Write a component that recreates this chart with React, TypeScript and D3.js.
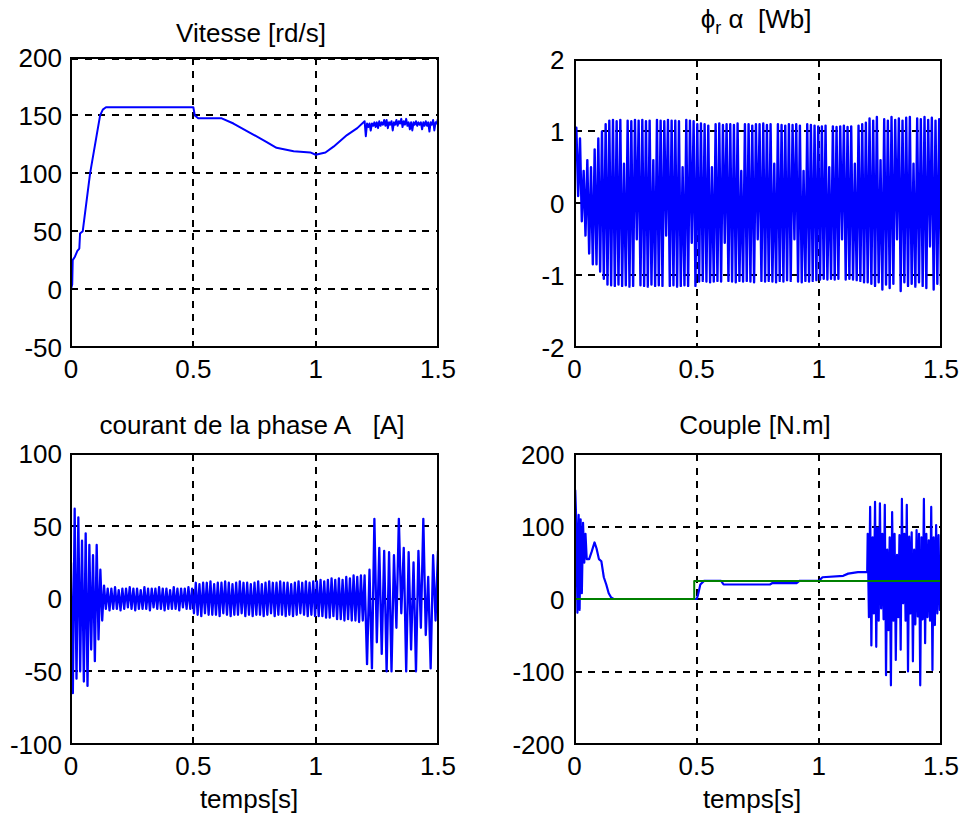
import React from 'react';
import * as d3 from 'd3';

// ---------- shared axis data ----------
const timeDomain: [number, number] = [0, 1.5];
const timeTicks = [0, 0.5, 1, 1.5];
const timeTickLabels = ['0', '0.5', '1', '1.5'];

// ---------- Vitesse [rd/s] ----------
const speedDomain: [number, number] = [-50, 200];
const speedTicks = [-50, 0, 50, 100, 150, 200];
const speedT = [0, 0.005, 0.007, 0.016, 0.026, 0.034, 0.037, 0.048, 0.078, 0.105,
  0.119, 0.13, 0.143, 0.5, 0.506, 0.52, 0.616, 0.664, 0.732, 0.8,
  0.84, 0.91, 0.978, 1.0, 1.04, 1.073, 1.128, 1.17, 1.2];
const speedV = [0, 4, 25, 28, 33, 35, 48, 50, 100, 133,
  150, 155, 157, 157, 150, 147.5, 147.5, 143, 135, 127,
  122, 119, 118, 116, 118, 123, 133, 139, 145];
// ripple after 1.2 s, one value every 0.005 s
const speedRippleStart = 1.205;
const speedRippleStep = 0.005;
const speedRippleV = [
  132, 143, 140, 143, 137, 143, 141, 144, 140, 144,
  139, 145, 141, 144, 142, 146, 141, 146, 139, 144,
  142, 145, 137, 144, 142, 146, 141, 145, 143, 147,
  140, 145, 142, 147, 141, 144, 138, 144, 137, 144,
  142, 145, 141, 144, 142, 144, 138, 144, 141, 145,
  141, 144, 136, 144, 142, 146, 137, 144, 143, 147,
];

// ---------- phi_r alpha [Wb] (one value every 0.0075 s) ----------
const fluxDomain: [number, number] = [-2, 2];
const fluxTicks = [-2, -1, 0, 1, 2];
const fluxStep = 0.0075;
const fluxV = [
  0.65, 1.05, 0.1, 0.9, -0.25, 0.45, -0.45, 0.6, -0.7, 0.5,
  -0.85, 0.75, -0.85, 0.9, -0.95, 1.0, -1.05, 1.1, -1.13,
  1.15, -1.14, 1.16, -1.15, 1.14, -1.13, 1.16, -1.15, 0.55, -1.14,
  1.15, -1.16, 1.14, -1.15, 1.16, -0.5, 1.15, -1.14, 1.16, -1.15,
  1.14, -1.16, 1.15, -1.13, 0.6, -1.15, 1.16, -1.14, 1.15, -1.15,
  1.14, -0.45, 1.16, -1.15, 1.15, -1.14, 1.15, -1.16, 1.14, -1.15,
  0.5, -1.14, 1.16, -1.15, 1.15, -0.55, 1.14, -1.15,
  1.1, -1.09, 1.11, -1.08, 1.1, -1.09, 1.08, -1.1, 0.5, -1.09,
  1.1, -1.08, 1.11, -1.09, 1.09, -0.55, 1.1, -1.08, 1.1, -1.09,
  1.09, -1.1, 1.11, -1.08, 0.45, -1.09, 1.1, -1.08, 1.1, -1.09,
  1.08, -1.1, 1.1, -0.5, 1.1, -1.08, 1.11, -1.09, 1.09, -1.08,
  1.1, -1.09, 0.55, -1.1, 1.1, -1.08, 1.09, -1.09, 1.08, -1.07,
  1.1, -1.08, 1.09, -0.5, 1.1, -1.09, 1.08, -1.1, 0.45, -1.08,
  1.1, -1.09, 1.09, -1.08, 1.08, -1.07, 1.07,
  -1.06, 1.07, -1.05, 1.08, -1.06, 0.5, -1.05, 1.07, -1.06, 1.06,
  -1.05, 1.07, -0.5, 1.08, -1.06, 1.06, -1.05, 1.07, -1.06, 0.55,
  -1.07, 1.08, -1.08, 1.1, -1.1, 1.12, -1.1,
  1.18, -1.12, 1.15, -1.15, 1.2, -1.1, 0.6, -1.2, 1.17, -1.13,
  1.15, -1.18, 1.2, -1.12, 1.16, -0.5, 1.18, -1.22, 1.15, -1.1,
  1.19, -1.15, 1.2, -1.12, 0.55, -1.16, 1.18, -1.1, 1.17, -1.15,
  1.2, -1.18, 1.16, -0.6, 1.19, -1.2, 1.15, -1.12, 1.17, -1.15,
];

// ---------- courant de la phase A [A] ----------
const currentDomain: [number, number] = [-100, 100];
const currentTicks = [-100, -50, 0, 50, 100];
// up to 1.2 s, one value every 0.0075 s
const currentStep = 0.0075;
const currentV = [
  25, -65, 62, -55, 56, -50, 40, -57, 45, -60, 37, -35, 30, -43, 37, -28, 20, -15, 9, -7,
  7, -8, 7, -7, 8, -7, 6, -8, 7, -7,
  7, -6, 8, -7, 7, -8, 7, -7, 6, -7,
  8, -7, 7, -8, 7, -6, 7, -7, 8, -7,
  7, -8, 7, -7, 6, -7, 8, -7, 7, -8,
  7, -6, 7, -7, 8, -7, 7,
  -10, 11, -11, 10, -12, 11, -10, 11, -11, 12,
  -11, 10, -11, 11, -12, 11, -10, 12, -11, 11,
  -12, 10, -11, 11, -11, 12, -10, 11, -12, 11,
  -11, 10, -12, 11, -11, 12, -11, 10, -12, 11,
  -11, 12, -10, 11, -12, 11, -11, 12, -11, 11,
  -12, 11, -11, 10, -12, 11, -11, 12, -10, 11,
  -11, 12, -12, 11, -11, 12, -12,
  12, -12, 13, -12, 12, -13, 13, -13, 14, -12,
  13, -14, 14, -14, 13, -15, 15, -14, 14, -15,
  16, -15, 15, -16, 16, -15, 16,
];
// after 1.2 s, one value every 0.01 s
const currentOscStart = 1.21;
const currentOscStep = 0.01;
const currentOscV = [
  -45, 20, -48, 55, -30, 35, -38, 33, -50, 32,
  -50, 30, -20, 55, -10, 35, -50, 32, -35, 25,
  -50, 33, -20, 55, -25, 15, -48, 30, -15, 33,
];

// ---------- Couple [N.m] ----------
const torqueDomain: [number, number] = [-200, 200];
const torqueTicks = [-200, -100, 0, 100, 200];
const torqueT = [0, 0.003, 0.008, 0.012, 0.017, 0.021, 0.025, 0.03, 0.035, 0.04,
  0.045, 0.05, 0.06, 0.07, 0.082, 0.09, 0.1, 0.11, 0.12, 0.13,
  0.14, 0.15, 0.16, 0.5, 0.505, 0.515, 0.53, 0.6, 0.61, 0.8,
  0.81, 0.91, 0.92, 1.0, 1.015, 1.1, 1.12, 1.16, 1.198];
const torqueV = [80, 150, 100, -19, 116, -15, 110, 8, 105, 50,
  90, 55, 55, 65, 78, 70, 55, 52, 30, 20,
  8, 2, 0, 0, 5, 20, 25, 25, 20, 20,
  22, 22, 25, 25, 30, 32, 35, 37, 37];
// oscillating part after 1.2 s, one value every 0.005 s
const torqueOscStart = 1.2;
const torqueOscStep = 0.005;
const torqueOscV = [
  90, -25, 127, -64, 85, -20, 134, -66, 98, -30,
  132, -13, 90, -28, 130, -105, 68, -43, 85, -119,
  120, -30, 90, -84, 61, -25, 88, -70, 138, -6,
  90, -30, 130, -100, 86, -20, 92, -86, 68, -35,
  95, -24, 90, -119, 85, -28, 138, -61, 90, -25,
  81, -30, 127, -98, 85, -36, 102, -20, 88, -15,
  60,
];
// load torque reference (green)
const loadT = [0, 0.49, 0.49, 1.5];
const loadV = [0, 0, 25, 25];

const FONT = "'Liberation Sans', Arial, Helvetica, sans-serif";
const BLUE = '#0000ff';
const GREEN = '#008000';

type Pt = [number, number];
type Series = { pts: Pt[]; color: string; width: number };
type Box = { l: number; r: number; t: number; b: number };

const zipPairs = (ts: number[], vs: number[]): Pt[] => vs.map((v, i) => [ts[i], v]);
const stepped = (t0: number, dt: number, vs: number[]): Pt[] => vs.map((v, i) => [t0 + i * dt, v]);

function Panel(props: {
  id: string;
  box: Box;
  yDomain: [number, number];
  yTicks: number[];
  title: React.ReactNode;
  titleX: number;
  titleY: number;
  xlabel?: string;
  xlabelX?: number;
  series: Series[];
  topGrid?: boolean;
  labelGap: number;
}) {
  const { id, box, yDomain, yTicks, series } = props;
  const xs = d3.scaleLinear().domain(timeDomain).range([box.l, box.r]);
  const ys = d3.scaleLinear().domain(yDomain).range([box.b, box.t]);
  const line = d3.line<Pt>().x((d) => xs(d[0])).y((d) => ys(d[1]));
  const innerX = timeTicks.filter((t) => t > timeDomain[0] && t < timeDomain[1]);
  const innerY = yTicks.filter((v) => v > yDomain[0] && v < yDomain[1]);
  const dash = '7 6.5';
  return (
    <g>
      <defs>
        <clipPath id={`clip-${id}`}>
          <rect x={box.l} y={box.t} width={box.r - box.l} height={box.b - box.t} />
        </clipPath>
      </defs>
      <g stroke="#000" strokeWidth={2} strokeDasharray={dash} shapeRendering="crispEdges">
        {innerX.map((t) => (
          <line key={`gx${t}`} x1={xs(t)} x2={xs(t)} y1={box.t} y2={box.b} />
        ))}
        {innerY.map((v) => (
          <line key={`gy${v}`} x1={box.l} x2={box.r} y1={ys(v)} y2={ys(v)} />
        ))}
        {props.topGrid && <line x1={box.l} x2={box.r} y1={box.t + 1.5} y2={box.t + 1.5} />}
      </g>
      <g clipPath={`url(#clip-${id})`}>
        {series.map((s, i) => (
          <path
            key={i}
            d={line(s.pts) || ''}
            fill="none"
            stroke={s.color}
            strokeWidth={s.width}
            strokeLinejoin="round"
          />
        ))}
      </g>
      <rect
        x={box.l}
        y={box.t}
        width={box.r - box.l}
        height={box.b - box.t}
        fill="none"
        stroke="#000"
        strokeWidth={2}
        shapeRendering="crispEdges"
      />
      <g fontFamily={FONT} fontSize={26} fill="#000">
        {yTicks.map((v) => (
          <text key={`yl${v}`} x={box.l - props.labelGap} y={ys(v) + 9.5} textAnchor="end">
            {String(v)}
          </text>
        ))}
        {timeTicks.map((t, i) => (
          <text key={`xl${t}`} x={xs(t)} y={box.b + 31} textAnchor="middle">
            {timeTickLabels[i]}
          </text>
        ))}
        <text x={props.titleX} y={props.titleY} textAnchor="middle">
          {props.title}
        </text>
        {props.xlabel && (
          <text x={props.xlabelX} y={808} textAnchor="middle">
            {props.xlabel}
          </text>
        )}
      </g>
    </g>
  );
}

export default function App() {
  const speed: Series[] = [
    {
      pts: [...zipPairs(speedT, speedV), ...stepped(speedRippleStart, speedRippleStep, speedRippleV)],
      color: BLUE,
      width: 2,
    },
  ];
  const flux: Series[] = [{ pts: stepped(0, fluxStep, fluxV), color: BLUE, width: 2.4 }];
  const current: Series[] = [
    {
      pts: [...stepped(0, currentStep, currentV), ...stepped(currentOscStart, currentOscStep, currentOscV)],
      color: BLUE,
      width: 2.3,
    },
  ];
  const torque: Series[] = [
    {
      pts: [...zipPairs(torqueT, torqueV), ...stepped(torqueOscStart, torqueOscStep, torqueOscV)],
      color: BLUE,
      width: 2.2,
    },
    { pts: zipPairs(loadT, loadV), color: GREEN, width: 2 },
  ];

  return (
    <svg
      width={959}
      height={817}
      viewBox="0 0 959 817"
      style={{ position: 'absolute', left: 0, top: 0, background: '#fff' }}
    >
      <rect x={0} y={0} width={959} height={817} fill="#fff" />
      <Panel
        id="speed"
        box={{ l: 71, r: 438, t: 57.5, b: 347 }}
        yDomain={speedDomain}
        yTicks={speedTicks}
        title="Vitesse [rd/s]"
        titleX={251}
        titleY={42}
        series={speed}
        topGrid
        labelGap={9}
      />
      <Panel
        id="flux"
        box={{ l: 574.5, r: 941, t: 59.5, b: 347 }}
        yDomain={fluxDomain}
        yTicks={fluxTicks}
        title={
          <>
            ϕ<tspan dy={6} fontSize={18}>r</tspan>
            <tspan dy={-6}>{'\u00a0α\u00a0\u00a0[Wb]'}</tspan>
          </>
        }
        titleX={756}
        titleY={28}
        series={flux}
        labelGap={10}
      />
      <Panel
        id="current"
        box={{ l: 71, r: 438, t: 453.5, b: 744 }}
        yDomain={currentDomain}
        yTicks={currentTicks}
        title={'courant de la phase A\u00a0\u00a0\u00a0[A]'}
        titleX={252}
        titleY={434}
        xlabel="temps[s]"
        xlabelX={249}
        series={current}
        labelGap={9}
      />
      <Panel
        id="torque"
        box={{ l: 574.5, r: 941, t: 454, b: 744 }}
        yDomain={torqueDomain}
        yTicks={torqueTicks}
        title="Couple [N.m]"
        titleX={755}
        titleY={433.5}
        xlabel="temps[s]"
        xlabelX={752}
        series={torque}
        labelGap={10}
      />
    </svg>
  );
}
